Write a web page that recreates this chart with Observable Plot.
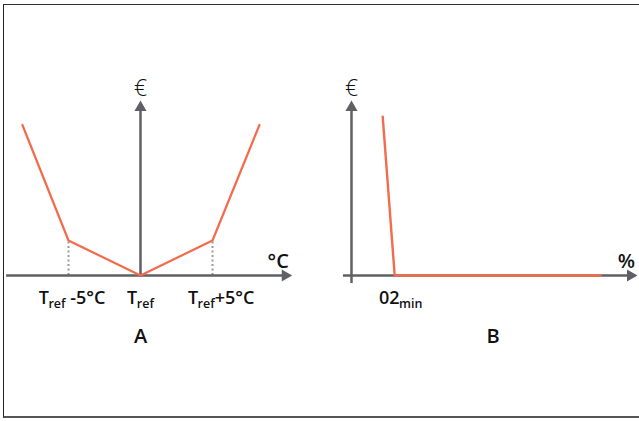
<!DOCTYPE html>
<html>
<head>
<meta charset="utf-8">
<script src="https://cdn.jsdelivr.net/npm/d3@7"></script>
<script src="https://cdn.jsdelivr.net/npm/@observablehq/plot@0.6"></script>
<style>
  html, body { margin: 0; padding: 0; background: #fff; overflow: hidden; }
  #wrap { position: relative; width: 639px; height: 421px; }
  #frame { position: absolute; left: 3px; top: 4px; width: 640px; height: 411px;
           border-left: 1.5px solid #222; border-top: 1px solid #333; border-bottom: 2px solid #555; }
  .panel { position: absolute; top: 0; }
</style>
</head>
<body>
<div id="wrap"><div id="frame"></div></div>
<script>
// ---- Panel A data (cost vs temperature) ----
const tempA = [-8.2, -5, 0, 5, 8.26];
const costA = [4.3, 1, 0, 1, 4.3];
const tickTempA = [-5, 5];
const tickLabelXA = [-4.75, 0, 5.6];
const tickLabelsA = ["T_ref -5°C", "T_ref", "T_ref+5°C"];
const axisXA = [-9.3, 10.05];
const axisYA = [-0.05, 4.8];

// ---- Panel B data (cost vs O2 %) ----
const o2B = [2.6, 3.6, 20.75];
const costB = [4.54, 0, 0];
const tickLabelXB = [4.1];
const tickLabelsB = ["02_min"];
const axisXB = [-0.67, 23.25];
const axisYB = [-0.23, 4.8];

const panelLabels = ["A", "B"];
const panelLabelX = [0, 11.8];

const FONT = "'Open Sans', 'Noto Sans', sans-serif";
const AXIS = "#5f5f66";
const LINE = "#f36b4c";

function subscriptify(svg) {
  const ns = "http://www.w3.org/2000/svg";
  svg.querySelectorAll("text").forEach(t => {
    const s = t.textContent;
    const m = s.match(/^([^_]*)_([a-z]+)(.*)$/);
    if (!m) return;
    while (t.firstChild) t.removeChild(t.firstChild);
    const a = document.createElementNS(ns, "tspan"); a.textContent = m[1];
    const b = document.createElementNS(ns, "tspan"); b.textContent = m[2];
    b.setAttribute("font-size", "12.5"); b.setAttribute("dy", "4"); b.setAttribute("dx", "-0.5");
    t.appendChild(a); t.appendChild(b);
    if (m[3]) {
      const c = document.createElementNS(ns, "tspan"); c.textContent = m[3];
      c.setAttribute("dy", "-4");
      t.appendChild(c);
    }
  });
}

// Panel A
const yScale = {domain: [0, 5], range: [275, 100]};
const plotA = Plot.plot({
  width: 320, height: 421,
  margin: 0,
  x: {domain: [-9.5, 10.5], range: [3.2, 291.2], axis: null},
  y: {...yScale, axis: null},
  marks: [
    Plot.ruleX(tickTempA, {x: d => d, y1: 0, y2: 1, stroke: "#999", strokeWidth: 2, strokeDasharray: "2,2.5"}),
    Plot.ruleY([0], {x1: axisXA[0], x2: axisXA[1], stroke: AXIS, strokeWidth: 2.5}),
    Plot.ruleX([0], {y1: axisYA[0], y2: axisYA[1], stroke: AXIS, strokeWidth: 2.5}),
    Plot.dot([0], {x: axisXA[1], y: 0, symbol: "triangle", r: 4.5, fill: AXIS, rotate: 90, stroke: null}),
    Plot.dot([0], {x: 0, y: axisYA[1], symbol: "triangle", r: 4.5, fill: AXIS, stroke: null}),
    Plot.line(tempA.map((t, i) => ({t, c: costA[i]})), {x: "t", y: "c", stroke: LINE, strokeWidth: 2.2}),
    Plot.text(tickLabelsA, {x: (d, i) => tickLabelXA[i], y: 0, text: d => d, dy: 23,
      fontFamily: FONT, fontSize: 18, fontWeight: 600, fill: "#111"}),
    Plot.text(["€"], {x: 0, y: 5, dy: -12, text: d => d, fontFamily: FONT, fontSize: 23, fontWeight: 300, fill: "#111"}),
    Plot.text(["°C"], {x: axisXA[1], y: 0, dx: -7, dy: -14, text: d => d, fontFamily: FONT, fontSize: 20, fontWeight: 600, fill: "#111"}),
    Plot.text([panelLabels[0]], {x: panelLabelX[0], y: 0, dy: 61, text: d => d, fontFamily: FONT, fontSize: 20, fontWeight: 600, fill: "#111"})
  ]
});
plotA.classList.add("panel");
plotA.style.left = "0px";
subscriptify(plotA);

// Panel B
const plotB = Plot.plot({
  width: 319, height: 421,
  margin: 0,
  x: {domain: [0, 24], range: [31, 319], axis: null},
  y: {...yScale, axis: null},
  marks: [
    Plot.ruleY([0], {x1: axisXB[0], x2: axisXB[1], stroke: AXIS, strokeWidth: 2.5}),
    Plot.ruleX([0], {y1: axisYB[0], y2: axisYB[1], stroke: AXIS, strokeWidth: 2.5}),
    Plot.dot([0], {x: axisXB[1], y: 0, symbol: "triangle", r: 4.5, fill: AXIS, rotate: 90, stroke: null}),
    Plot.dot([0], {x: 0, y: axisYB[1], symbol: "triangle", r: 4.5, fill: AXIS, stroke: null}),
    Plot.line(o2B.map((o, i) => ({o, c: costB[i]})), {x: "o", y: "c", stroke: LINE, strokeWidth: 2.4}),
    Plot.text(tickLabelsB, {x: (d, i) => tickLabelXB[i], y: 0, text: d => d, dy: 23,
      fontFamily: FONT, fontSize: 18, fontWeight: 600, fill: "#111"}),
    Plot.text(["€"], {x: 0, y: 5, dy: -12, text: d => d, fontFamily: FONT, fontSize: 23, fontWeight: 300, fill: "#111"}),
    Plot.text(["%"], {x: axisXB[1], y: 0, dx: -4, dy: -14, text: d => d, fontFamily: FONT, fontSize: 20, fontWeight: 600, fill: "#111"}),
    Plot.text([panelLabels[1]], {x: panelLabelX[1], y: 0, dy: 61, text: d => d, fontFamily: FONT, fontSize: 20, fontWeight: 600, fill: "#111"})
  ]
});
plotB.classList.add("panel");
plotB.style.left = "320px";
subscriptify(plotB);

const wrap = document.getElementById("wrap");
wrap.appendChild(plotA);
wrap.appendChild(plotB);
</script>
</body>
</html>
